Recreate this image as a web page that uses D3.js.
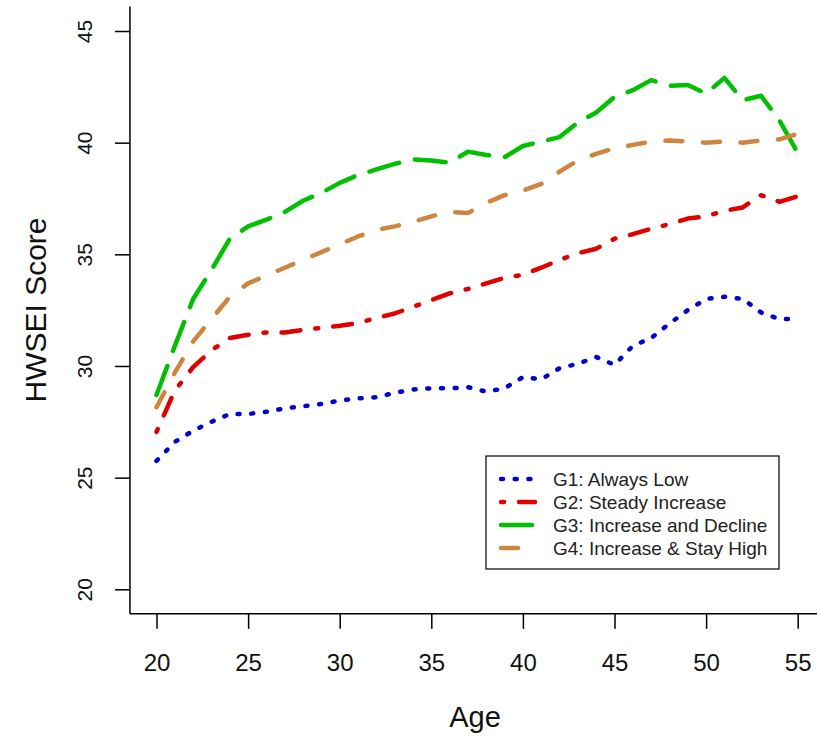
<!DOCTYPE html>
<html>
<head>
<meta charset="utf-8">
<script src="https://cdn.jsdelivr.net/npm/d3@7"></script>
<style>
  body { margin: 0; background: #fff; }
  svg { display: block; font-family: "Liberation Sans", Arial, sans-serif; }
</style>
</head>
<body>
<svg id="chart" width="817" height="742"></svg>
<script>
// ages 20..55
const ages = d3.range(20, 56)

const g1 = [25.75, 26.6, 27.1, 27.5, 27.85, 27.85, 27.95, 28.1, 28.2, 28.3, 28.45, 28.55, 28.6, 28.8, 28.95, 29.0, 29.0, 29.05,
  28.85, 29.0, 29.5, 29.4, 29.9, 30.1, 30.4, 30.05, 30.9, 31.25, 31.9, 32.5, 33.0, 33.1, 33.0, 32.4, 32.1, 32.1]
const g2 = [27.05, 28.9, 29.95, 30.7, 31.25, 31.4, 31.5, 31.5, 31.62, 31.7, 31.8, 31.92, 32.15, 32.35, 32.65, 32.95, 33.25, 33.45,
  33.7, 33.95, 34.08, 34.4, 34.75, 35.05, 35.25, 35.7, 35.9, 36.15, 36.35, 36.6, 36.7, 36.95, 37.1, 37.65, 37.35, 37.6]
const g3 = [28.7, 30.9, 33.0, 34.3, 35.7, 36.25, 36.55, 36.9, 37.4, 37.75, 38.2, 38.55, 38.8, 39.05, 39.25, 39.2, 39.1, 39.6,
  39.45, 39.35, 39.85, 40.05, 40.25, 40.9, 41.35, 42.05, 42.35, 42.8, 42.55, 42.58, 42.2, 42.9, 41.9, 42.1, 41.0, 39.55]
const g4 = [28.15, 29.7, 31.1, 32.1, 33.1, 33.7, 34.05, 34.4, 34.75, 35.1, 35.45, 35.8, 36.1, 36.25, 36.45, 36.7, 36.9, 36.85,
  37.3, 37.65, 37.85, 38.15, 38.7, 39.2, 39.5, 39.75, 39.9, 40.05, 40.1, 40.05, 40.0, 40.05, 40.0, 40.1, 40.15, 40.4]

const seriesNames = ['G1: Always Low', 'G2: Steady Increase', 'G3: Increase and Decline', 'G4: Increase & Stay High']
const xTicks = [20, 25, 30, 35, 40, 45, 50, 55]
const yTicks = [20, 25, 30, 35, 40, 45]

const series = [
  { name: seriesNames[0], values: g1, color: '#0000cd', dash: '2 11.7' },
  { name: seriesNames[1], values: g2, color: '#e00000', dash: '3 15 19 15' },
  { name: seriesNames[2], values: g3, color: '#00c000', dash: '31 16' },
  { name: seriesNames[3], values: g4, color: '#cd853f', dash: '17 20.6' }
]

const svg = d3.select('#chart')

const x = d3.scaleLinear().domain([20, 55]).range([156.5, 797.7])
const y = d3.scaleLinear().domain([20, 45]).range([589.3, 31])

// L-shaped box (R bty="l")
const boxX = x(18.55), boxY = y(18.9)
svg.append('line')
  .attr('x1', boxX).attr('x2', boxX).attr('y1', y(46.1)).attr('y2', boxY)
  .attr('stroke', '#000').attr('stroke-width', 1.5)
svg.append('line')
  .attr('x1', boxX).attr('x2', 817).attr('y1', boxY).attr('y2', boxY)
  .attr('stroke', '#000').attr('stroke-width', 1.5)

// x axis
const xAxis = d3.axisBottom(x).tickValues(xTicks).tickSize(15).tickSizeOuter(0)
const gx = svg.append('g').attr('transform', `translate(0,${boxY})`).call(xAxis)
gx.select('.domain').remove()
gx.selectAll('line').attr('stroke', '#000').attr('stroke-width', 1.5)
gx.selectAll('text').attr('y', 57).attr('dy', 0)
  .style('font-size', '24px').style('font-family', '"Liberation Sans", Arial, sans-serif').attr('fill', '#111')

// y axis
const yAxis = d3.axisLeft(y).tickValues(yTicks).tickSize(15).tickSizeOuter(0)
const gy = svg.append('g').attr('transform', `translate(${boxX},0)`).call(yAxis)
gy.select('.domain').remove()
gy.selectAll('line').attr('stroke', '#000').attr('stroke-width', 1.5)
gy.selectAll('text')
  .attr('transform', 'rotate(-90)')
  .attr('x', 0).attr('y', -38).attr('dy', 0)
  .attr('text-anchor', 'middle')
  .style('font-size', '21px').style('font-family', '"Liberation Sans", Arial, sans-serif').attr('fill', '#111')

// axis titles
svg.append('text')
  .attr('x', 475).attr('y', 727)
  .attr('text-anchor', 'middle')
  .style('font-size', '29px').attr('fill', '#111')
  .text('Age')
svg.append('text')
  .attr('transform', 'translate(46,310) rotate(-90)')
  .attr('text-anchor', 'middle')
  .style('font-size', '30px').attr('fill', '#111')
  .text('HWSEI Score')

// lines
const line = d3.line()
  .x((d, i) => x(ages[i]))
  .y(d => y(d))

svg.selectAll('.series')
  .data(series)
  .join('path')
  .attr('class', 'series')
  .attr('d', d => line(d.values))
  .attr('fill', 'none')
  .attr('stroke', d => d.color)
  .attr('stroke-width', 4.5)
  .attr('stroke-linecap', 'round')
  .attr('stroke-linejoin', 'round')
  .attr('stroke-dasharray', d => d.dash)

// legend
const lg = svg.append('g')
lg.append('rect')
  .attr('x', 486).attr('y', 456).attr('width', 293).attr('height', 113)
  .attr('fill', '#fff').attr('stroke', '#000').attr('stroke-width', 1.2)

const rows = lg.selectAll('.row')
  .data(series)
  .join('g')
  .attr('class', 'row')
  .attr('transform', (d, i) => `translate(0,${479 + i * 23})`)
rows.append('line')
  .attr('x1', 501).attr('x2', 535).attr('y1', 0).attr('y2', 0)
  .attr('stroke', d => d.color)
  .attr('stroke-width', 4.5)
  .attr('stroke-linecap', 'round')
  .attr('stroke-dasharray', d => d.dash)
rows.append('text')
  .attr('x', 553).attr('y', 7)
  .style('font-size', '19px').attr('fill', '#222')
  .text(d => d.name)
</script>
</body>
</html>
